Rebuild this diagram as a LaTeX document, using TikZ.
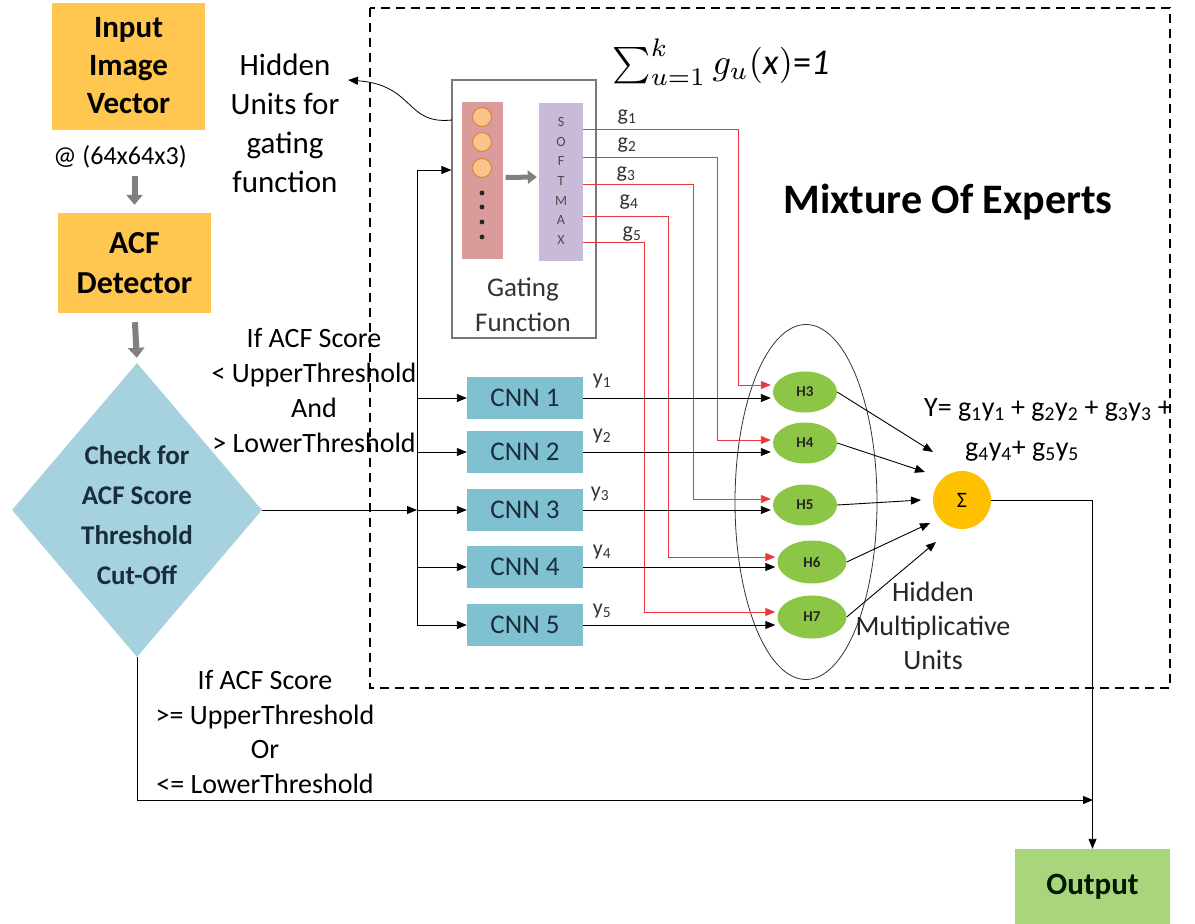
\documentclass[tikz,border=0pt]{standalone}
\usepackage{fontspec}
\setmainfont{Carlito}
\usetikzlibrary{arrows.meta,shapes.geometric,calc}
\definecolor{boxorange}{RGB}{255,199,79}
\definecolor{diamondblue}{RGB}{166,210,223}
\definecolor{cnnblue}{RGB}{128,193,209}
\definecolor{hgreen}{RGB}{140,198,70}
\definecolor{sumorange}{RGB}{255,192,0}
\definecolor{outgreen}{RGB}{169,213,125}
\definecolor{pinkcol}{RGB}{218,155,155}
\definecolor{lavcol}{RGB}{200,186,216}
\definecolor{circfill}{RGB}{250,195,140}
\definecolor{circdraw}{RGB}{225,130,50}
\definecolor{linered}{RGB}{238,55,60}
\definecolor{gbord}{RGB}{120,120,120}
\definecolor{navytext}{RGB}{25,45,60}
\begin{document}
\begin{tikzpicture}[x=1pt,y=-1pt,
  txt/.style={inner sep=0pt, align=center},
  obox/.style={fill=boxorange, minimum width=153pt, minimum height=127pt, inner sep=0pt, align=center, font=\bfseries\fontsize{31}{38}\selectfont},
  cnn/.style={fill=cnnblue, minimum width=116pt, minimum height=42pt, inner sep=0pt, text=navytext, font=\fontsize{27}{30}\selectfont},
  hnode/.style={ellipse, fill=hgreen, minimum width=64pt, minimum height=41pt, inner sep=0pt, text=black!85, font=\bfseries\fontsize{15}{17}\selectfont},
  arr/.style={draw=black, line width=0.9pt, -{Triangle[length=10pt,width=8pt]}},
  plain/.style={draw=black, line width=0.9pt},
  redarr/.style={draw=linered, line width=0.9pt, -{Triangle[length=10pt,width=8pt]}, shorten >=2pt},
  garr/.style={draw=gray, line width=6pt, -{Triangle[length=10pt,width=16pt]}},
  dashbox/.style={draw=black, line width=1.6pt, dash pattern=on 9pt off 6pt},
  lab/.style={inner sep=0pt, font=\fontsize{22}{24}\selectfont, text=black!80}
]
\useasboundingbox[fill=white] (0,0) rectangle (1195,924);
\draw[dashbox] (370,8) rectangle (1170,688);

% left column
\node[obox] (input) at (128.5,66) {Input\\Image\\Vector};
\node[txt, font=\fontsize{26}{30}\selectfont] (dim) at (120,157) {@ (64x64x3)};
\node[obox, minimum height=100pt, font=\bfseries\fontsize{32}{40}\selectfont] (acf) at (134.5,263) {ACF\\Detector};
\node[diamond, fill=diamondblue, minimum width=250pt, minimum height=294pt, inner sep=0pt] (chk) at (137,510) {};
\node[txt, text=navytext, font=\bfseries\fontsize{27}{40}\selectfont] (chktext) at (137,515) {Check for\\ACF Score\\Threshold\\Cut-Off};
\draw[garr, shorten <=7pt, shorten >=8pt] (acf.north |- dim.south) -- (acf.north);
\draw[garr, shorten <=9pt, shorten >=5pt] (acf.south) -- (chk.north);

% hidden units text
\node[txt, font=\fontsize{31}{39}\selectfont] (hut) at (285,123) {Hidden\\Units for\\gating\\function};

% gating function
\node[draw=gbord, line width=1.2pt, minimum width=144pt, minimum height=258pt, inner sep=0pt] (gate) at (524,209) {};
\node[fill=pinkcol, minimum width=41pt, minimum height=157pt, inner sep=0pt] (hid) at (482,180.5) {};
\node[circle, fill=circfill, draw=circdraw, line width=1pt, minimum size=19pt, inner sep=0pt] (c1) at (482,117) {};
\node[circle, fill=circfill, draw=circdraw, line width=1pt, minimum size=19pt, inner sep=0pt] (c2) at (482,142) {};
\node[circle, fill=circfill, draw=circdraw, line width=1pt, minimum size=19pt, inner sep=0pt] (c3) at (482,168) {};
\foreach \yy in {193,207,222,237} \fill[black!85] (482,\yy) circle (2.4pt);
\node[fill=lavcol, minimum width=44pt, minimum height=158pt, inner sep=0pt] (sm) at (561,182) {};
\node[txt, text=black!70, font=\fontsize{14}{19.7}\selectfont] (smtext) at (561,181) {S\\O\\F\\T\\M\\A\\X};
\draw[garr, line width=5pt, -{Triangle[length=9pt,width=13pt]}] ($(hid.east)+(3,-3)$) -- ($(sm.west)+(-2,-5)$);
\node[txt, font=\fontsize{27}{35}\selectfont, text=black!80] (gtext) at (523,305) {Gating\\Function};

% curved arrow to hidden units text
\coordinate (gcurve) at (452,120);
\coordinate (hutin) at (348,80);
\draw[arr, line width=0.8pt] (gcurve) .. controls (405,125) and (415,85) .. (hutin);

% formulas and title
\node[txt] (sumf) at (721,62) {\resizebox{217pt}{!}{\fontsize{10}{12}\selectfont$\sum_{u=1}^{k} g_u($\textit{x}$)$=\textit{1}}};
\node[txt, font=\bfseries\fontsize{42}{48}\selectfont] (moe) at (948,202) {Mixture Of Experts};

% CNN boxes
\node[cnn] (cnn1) at (525,398) {CNN 1};
\node[cnn] (cnn2) at (525,452) {CNN 2};
\node[cnn] (cnn3) at (525,510) {CNN 3};
\node[cnn] (cnn4) at (525,567) {CNN 4};
\node[cnn] (cnn5) at (525,625) {CNN 5};

% big ellipse and H nodes
\node[ellipse, draw=black!80, line width=0.8pt, minimum width=142pt, minimum height=355pt, inner sep=0pt] (hmu) at (806,502) {};
\node[hnode] (h3) at (805,392) {H3};
\node[hnode] (h4) at (805,443) {H4};
\node[hnode] (h5) at (805,505) {H5};
\node[hnode, minimum width=69pt, minimum height=43pt] (h6) at (812,562) {H6};
\node[hnode, minimum width=69pt, minimum height=43pt] (h7) at (812,617) {H7};

% red gating lines
\coordinate (go1) at (583,129);
\coordinate (go2) at (583,157);
\coordinate (go3) at (583,184);
\coordinate (go4) at (583,216);
\coordinate (go5) at (583,242);
\coordinate (r1) at (738,385);
\coordinate (r2) at (717,440);
\coordinate (r3) at (693,499);
\coordinate (r4) at (668,557);
\coordinate (r5) at (644,612);
\draw[redarr] (go1) -| (r1) -- (r1 -| h3.west);
\draw[redarr] (go2) -| (r2) -- (r2 -| h4.west);
\draw[redarr] (go3) -| (r3) -- (r3 -| h5.west);
\draw[redarr] (go4) -| (r4) -- (r4 -| h6.west);
\draw[redarr] (go5) -| (r5) -- (r5 -| h7.west);
\node[lab] (gl1) at (627,117) {g\textsubscript{1}};
\node[lab] (gl2) at (627,145) {g\textsubscript{2}};
\node[lab] (gl3) at (626,174) {g\textsubscript{3}};
\node[lab] (gl4) at (629,202) {g\textsubscript{4}};
\node[lab] (gl5) at (632,234) {g\textsubscript{5}};

% CNN outputs
\draw[arr, shorten >=2pt] (cnn1.east) -- (cnn1.east -| h3.west);
\draw[arr, shorten >=2pt] (cnn2.east) -- (cnn2.east -| h4.west);
\draw[arr, shorten >=2pt] (cnn3.east) -- (cnn3.east -| h5.west);
\draw[arr, shorten >=2pt] (cnn4.east) -- (cnn4.east -| h6.west);
\draw[arr, shorten >=2pt] (cnn5.east) -- (cnn5.east -| h7.west);
\node[lab] (yl1) at (602,381) {y\textsubscript{1}};
\node[lab] (yl2) at (602,436) {y\textsubscript{2}};
\node[lab] (yl3) at (600,494) {y\textsubscript{3}};
\node[lab] (yl4) at (602,552) {y\textsubscript{4}};
\node[lab] (yl5) at (602,611) {y\textsubscript{5}};

% branching from the check
\coordinate (jt) at (417,170);
\coordinate (jm) at (417,510);
\coordinate (jb) at (417,625);
\draw[plain] (jt) -- (jb);
\draw[arr] (jt) -- (jt -| gate.west);
\draw[arr] (chk.east) -- (jm);
\draw[arr] (cnn1.west -| jt) -- (cnn1.west);
\draw[arr] (cnn2.west -| jt) -- (cnn2.west);
\draw[arr] (cnn3.west -| jt) -- (cnn3.west);
\draw[arr] (cnn4.west -| jt) -- (cnn4.west);
\draw[arr] (cnn5.west -| jt) -- (cnn5.west);
\node[txt, font=\fontsize{28}{35}\selectfont] (cond1) at (314,390) {If ACF Score\\< UpperThreshold\\And\\> LowerThreshold};

% sum node
\node[circle, fill=sumorange, minimum size=58pt, inner sep=0pt, font=\fontsize{22}{24}\selectfont] (sum) at (962,500) {Σ};
\coordinate (sa3) at (933,452);
\coordinate (sa4) at (925,472);
\coordinate (sa5) at (921,500);
\coordinate (sa6) at (930,523);
\coordinate (sa7) at (936,542);
\draw[arr] (h3.east) -- (sa3);
\draw[arr] (h4.east) -- (sa4);
\draw[arr] (h5.east) -- (sa5);
\draw[arr] (h6.east) -- (sa6);
\draw[arr] (h7.east) -- (sa7);
\node[txt, font=\fontsize{28}{32}\selectfont] (yf1) at (1048,410) {Y= g\textsubscript{1}y\textsubscript{1} + g\textsubscript{2}y\textsubscript{2} + g\textsubscript{3}y\textsubscript{3} +};
\node[txt, font=\fontsize{28}{32}\selectfont] (yf2) at (1022,451) {g\textsubscript{4}y\textsubscript{4}+ g\textsubscript{5}y\textsubscript{5}};
\node[txt, font=\fontsize{28}{34}\selectfont, text=black!85] (hmutext) at (933,626) {Hidden\\Multiplicative\\Units};

% output
\node[fill=outgreen, minimum width=155pt, minimum height=75pt, inner sep=0pt, text=black!90!green, font=\bfseries\fontsize{31}{36}\selectfont] (out) at (1092.5,886.5) {Output};
\draw[arr] (sum.east) -| (out.north);
\coordinate (bj) at (1093,800);
\draw[arr] (chk.south) |- (bj);
\node[txt, font=\fontsize{28}{34.5}\selectfont] (cond2) at (265,732) {If ACF Score\\>= UpperThreshold\\Or\\<= LowerThreshold};
\end{tikzpicture}
\end{document}
